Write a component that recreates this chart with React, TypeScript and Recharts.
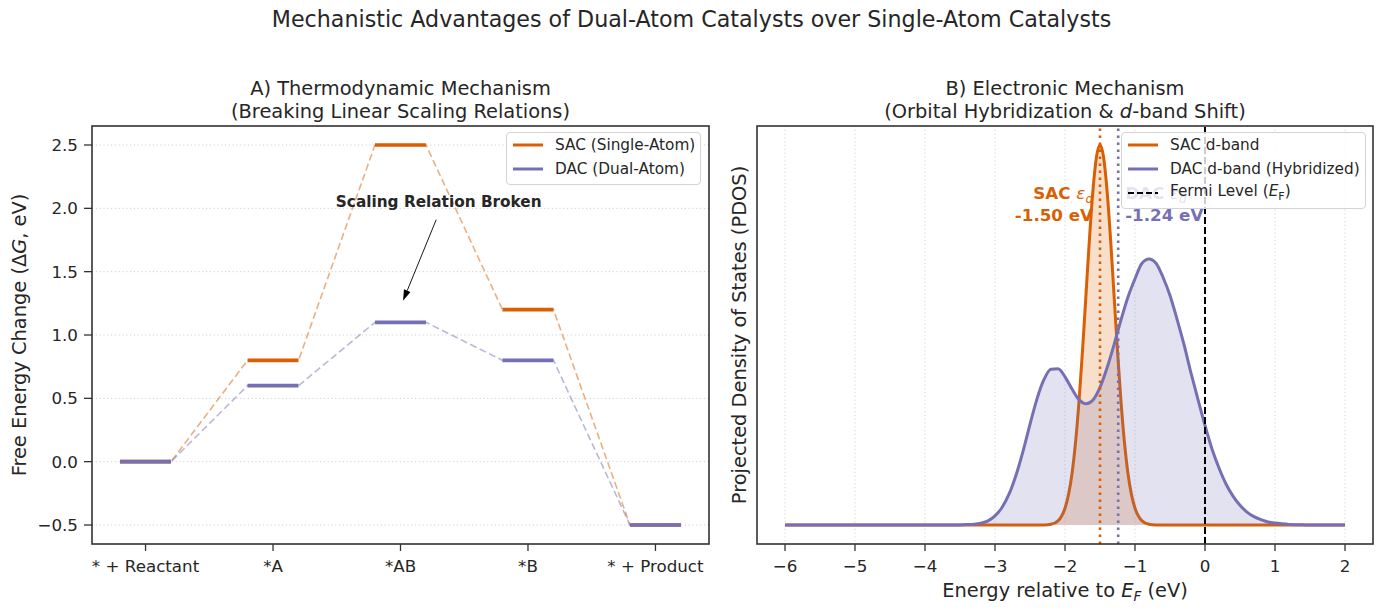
import React from 'react';
import { ComposedChart, Line, Area, XAxis, YAxis, CartesianGrid, ReferenceLine, ReferenceDot } from 'recharts';

// Panel A: free energy levels per reaction step
const STEPS = ['* + Reactant', '*A', '*AB', '*B', '* + Product'];
const SAC_G = [0, 0.8, 2.5, 1.2, -0.5];
const DAC_G = [0, 0.6, 1.1, 0.8, -0.5];
const G_TICKS = [-0.5, 0, 0.5, 1, 1.5, 2, 2.5];

// Panel B: projected DOS (normalised to SAC peak)
const SAC_E = [-6, -2.4, -2.3, -2.2, -2.1, -2.05, -2.0, -1.95, -1.9, -1.85, -1.8, -1.75, -1.7, -1.65, -1.6, -1.55, -1.5,
  -1.45, -1.4, -1.35, -1.3, -1.25, -1.2, -1.15, -1.1, -1.05, -1.0, -0.95, -0.9, -0.8, -0.7, -0.6, 2];
const SAC_PDOS = [0, 0, 0.0003, 0.002, 0.011, 0.023, 0.044, 0.08, 0.135, 0.216, 0.325, 0.458, 0.607, 0.755, 0.882, 0.969, 1.0,
  0.969, 0.882, 0.755, 0.607, 0.458, 0.325, 0.216, 0.135, 0.08, 0.044, 0.023, 0.011, 0.002, 0.0003, 0, 0];

const DAC_E = [-6, -3.6, -3.5, -3.4, -3.3, -3.2, -3.1, -3.0, -2.9, -2.8, -2.7, -2.6, -2.5, -2.4, -2.3, -2.2, -2.1, -2.0,
  -1.9, -1.8, -1.7, -1.6, -1.5, -1.4, -1.3, -1.2, -1.1, -1.0, -0.9, -0.8, -0.7, -0.6, -0.5, -0.4, -0.3, -0.2, -0.1,
  0, 0.1, 0.2, 0.3, 0.4, 0.5, 0.6, 0.7, 0.8, 0.9, 1.0, 1.1, 1.2, 1.3, 1.4, 1.5, 2];
const DAC_PDOS = [0, 0, 0.0003, 0.001, 0.002, 0.005, 0.011, 0.024, 0.046, 0.081, 0.131, 0.194, 0.265, 0.332, 0.383, 0.41, 0.411, 0.39,
  0.358, 0.33, 0.319, 0.329, 0.362, 0.413, 0.474, 0.54, 0.6, 0.648, 0.689, 0.7, 0.689, 0.652, 0.604, 0.542, 0.475, 0.4, 0.33,
  0.262, 0.2, 0.15, 0.108, 0.076, 0.052, 0.034, 0.022, 0.014, 0.008, 0.005, 0.003, 0.0015, 0.0008, 0.0004, 0, 0];

const E_TICKS = [-6, -5, -4, -3, -2, -1, 0, 1, 2];
const SAC_CENTER = -1.5;
const DAC_CENTER = -1.24;
const FERMI = 0;

const ORANGE = '#d95f02';
const PURPLE = '#7570b3';
const INK = '#262626';
const SPINE = '#333333';
const FONT = '"DejaVu Sans", sans-serif';
const HALF = 0.2;

const minus = (s: string) => s.replace('-', '\u2212');

// level rows: each step is a flat segment, null rows break the level lines
const levelRows: any[] = [];
STEPS.forEach((_, i) => {
  [i - HALF, i + HALF].forEach((x) =>
    levelRows.push({ x, sacLink: SAC_G[i], dacLink: DAC_G[i], sac: SAC_G[i], dac: DAC_G[i] })
  );
  if (i < STEPS.length - 1) levelRows.push({ x: i + 0.5, sacLink: null, dacLink: null, sac: null, dac: null });
});

const sacRows = SAC_E.map((e, i) => ({ e, v: SAC_PDOS[i] }));
const dacRows = DAC_E.map((e, i) => ({ e, v: DAC_PDOS[i] }));

const Arrow = (p: any) => {
  const { x1, y1, x2, y2 } = p;
  const a = Math.atan2(y2 - y1, x2 - x1);
  const L = 11, W = 3.5;
  const bx = x2 - Math.cos(a) * L, by = y2 - Math.sin(a) * L;
  const nx = -Math.sin(a) * W, ny = Math.cos(a) * W;
  return (
    <g>
      <line x1={x1} y1={y1} x2={bx} y2={by} stroke="#000" strokeWidth={0.9} />
      <polygon points={`${x2},${y2} ${bx + nx},${by + ny} ${bx - nx},${by - ny}`} fill="#000" />
    </g>
  );
};

const CenterLabel = (name: string, value: number, color: string, anchor: 'start' | 'end') => (p: any) => (
  <text x={p.cx} y={p.cy} textAnchor={anchor} fill={color} fontFamily={FONT} fontSize={16.7} fontWeight="bold">
    <tspan x={p.cx} dy={-11}>
      {name + ' '}
      <tspan fontWeight="normal" fontStyle="italic">ε</tspan>
      <tspan fontWeight="normal" fontStyle="italic" fontSize={12} dy={4}>d</tspan>
    </tspan>
    <tspan x={p.cx} dy={18}>{value.toFixed(2) + ' eV'}</tspan>
  </text>
);

const LegendBox = ({ left, top, width, items }: any) => (
  <div
    style={{
      position: 'absolute', left, top, width, boxSizing: 'border-box',
      border: '1px solid #d4d4d4', borderRadius: 4, background: 'rgba(255,255,255,0.8)',
      paddingLeft: 6, paddingBottom: 3, fontFamily: FONT, fontSize: 15.3, color: INK,
    }}
  >
    {items.map((it: any, k: number) => (
      <div key={k} style={{ display: 'flex', alignItems: 'center', height: 24 }}>
        <svg width={30} height={8} style={{ flex: 'none' }}>
          <line x1={0} y1={4} x2={30} y2={4} stroke={it.color} strokeWidth={it.dash ? 2 : 3} strokeDasharray={it.dash} />
        </svg>
        <span style={{ marginLeft: 12, whiteSpace: 'nowrap' }}>{it.label}</span>
      </div>
    ))}
  </div>
);

const tickStyle = { fill: INK, fontSize: 16.7, fontFamily: FONT };

export default function App() {
  return (
    <div style={{ position: 'relative', width: 1383, height: 614, background: '#fff', fontFamily: FONT }}>
      <style>{'body{margin:0}'}</style>

      <div style={{ position: 'absolute', left: 0, top: 0 }}>
        <ComposedChart width={720} height={614} data={levelRows} margin={{ top: 126, right: 11, bottom: 30, left: 32 }}>
          <CartesianGrid vertical={false} stroke="#cfcfcf" strokeDasharray="1.2 2.6" />
          <XAxis
            type="number" dataKey="x" domain={[-0.42, 4.42]} ticks={[0, 1, 2, 3, 4]} interval={0} allowDataOverflow
            tickFormatter={(v: number) => STEPS[v]} height={40} tickSize={7} tickMargin={9}
            axisLine={false} tickLine={{ stroke: SPINE, strokeWidth: 1.3 }} tick={tickStyle}
          />
          <YAxis
            type="number" domain={[-0.65, 2.65]} ticks={G_TICKS} interval={0} allowDataOverflow width={60}
            tickFormatter={(v: number) => minus(v.toFixed(1))} tickSize={8} tickMargin={6}
            axisLine={false} tickLine={{ stroke: SPINE, strokeWidth: 1.3 }} tick={tickStyle}
          />
          <Line dataKey="sacLink" type="linear" stroke={ORANGE} strokeOpacity={0.5} strokeWidth={1.6} strokeDasharray="7 3.5"
            dot={false} activeDot={false} connectNulls isAnimationActive={false} />
          <Line dataKey="dacLink" type="linear" stroke={PURPLE} strokeOpacity={0.5} strokeWidth={1.6} strokeDasharray="7 3.5"
            dot={false} activeDot={false} connectNulls isAnimationActive={false} />
          <Line dataKey="sac" type="linear" stroke={ORANGE} strokeWidth={3.6} dot={false} activeDot={false}
            connectNulls={false} isAnimationActive={false} />
          <Line dataKey="dac" type="linear" stroke={PURPLE} strokeWidth={3.6} dot={false} activeDot={false}
            connectNulls={false} isAnimationActive={false} />
          <ReferenceLine segment={[{ x: 2.28, y: 1.91 }, { x: 2.02, y: 1.27 }]} shape={Arrow} />
          <ReferenceDot x={2.3} y={2.05} r={0} shape={(p: any) => (
            <text x={p.cx} y={p.cy} textAnchor="middle" dominantBaseline="central" fill={INK}
              fontFamily={FONT} fontSize={15.3} fontWeight="bold">Scaling Relation Broken</text>
          )} />
        </ComposedChart>
      </div>

      <div style={{ position: 'absolute', left: 720, top: 0 }}>
        <ComposedChart width={663} height={614} margin={{ top: 126, right: 10, bottom: 30, left: 37 }}>
          <CartesianGrid horizontal={false} stroke="#d6d6d6" strokeDasharray="1.2 2.6" />
          <XAxis
            type="number" dataKey="e" domain={[-6.4, 2.4]} ticks={E_TICKS} interval={0} allowDataOverflow
            tickFormatter={(v: number) => minus(String(v))} height={40} tickSize={7} tickMargin={9}
            axisLine={false} tickLine={{ stroke: SPINE, strokeWidth: 1.3 }} tick={tickStyle}
          />
          <YAxis hide type="number" domain={[-0.05, 1.05]} allowDataOverflow />
          <Area data={sacRows} dataKey="v" type="monotone" baseValue={0} stroke={ORANGE} strokeWidth={3}
            fill={ORANGE} fillOpacity={0.2} dot={false} activeDot={false} isAnimationActive={false} />
          <Area data={dacRows} dataKey="v" type="monotone" baseValue={0} stroke={PURPLE} strokeWidth={3}
            fill={PURPLE} fillOpacity={0.2} dot={false} activeDot={false} isAnimationActive={false} />
          <ReferenceLine x={SAC_CENTER} stroke={ORANGE} strokeWidth={2.6} strokeDasharray="2.6 4.4" />
          <ReferenceLine x={DAC_CENTER} stroke={PURPLE} strokeWidth={2.6} strokeDasharray="2.6 4.4" />
          <ReferenceLine x={FERMI} stroke="#000" strokeWidth={2} strokeDasharray="7 3" />
          <ReferenceDot x={SAC_CENTER - 0.1} y={0.83} r={0} shape={CenterLabel('SAC', SAC_CENTER, ORANGE, 'end')} />
          <ReferenceDot x={DAC_CENTER + 0.1} y={0.83} r={0} shape={CenterLabel('DAC', DAC_CENTER, PURPLE, 'start')} />
        </ComposedChart>
      </div>

      <svg width={1383} height={614} style={{ position: 'absolute', left: 0, top: 0, pointerEvents: 'none' }}
        fontFamily={FONT} fill={INK}>
        <rect x={92} y={126} width={617} height={418} fill="none" stroke={SPINE} strokeWidth={1.6} />
        <rect x={757} y={126} width={616} height={418} fill="none" stroke={SPINE} strokeWidth={1.6} />
        <text x={691.5} y={26.5} textAnchor="middle" fontSize={22.2}>
          Mechanistic Advantages of Dual-Atom Catalysts over Single-Atom Catalysts
        </text>
        <text x={400.5} y={95} textAnchor="middle" fontSize={19.4}>A) Thermodynamic Mechanism</text>
        <text x={400.5} y={118} textAnchor="middle" fontSize={19.4}>(Breaking Linear Scaling Relations)</text>
        <text x={1065} y={95} textAnchor="middle" fontSize={19.4}>B) Electronic Mechanism</text>
        <text x={1065} y={118} textAnchor="middle" fontSize={19.4}>
          (Orbital Hybridization &amp; <tspan fontStyle="italic">d</tspan>-band Shift)
        </text>
        <text x={26} y={335} transform="rotate(-90 26 335)" textAnchor="middle" fontSize={19.4}>
          Free Energy Change (Δ<tspan fontStyle="italic">G</tspan>, eV)
        </text>
        <text x={746} y={335} transform="rotate(-90 746 335)" textAnchor="middle" fontSize={19.4}>
          Projected Density of States (PDOS)
        </text>
        <text x={1065} y={597} textAnchor="middle" fontSize={19.4}>
          Energy relative to <tspan fontStyle="italic">E</tspan>
          <tspan fontStyle="italic" fontSize={13.5} dy={4}>F</tspan>
          <tspan dy={-4}> (eV)</tspan>
        </text>
      </svg>

      <LegendBox left={506} top={132} width={195} items={[
        { label: 'SAC (Single-Atom)', color: ORANGE },
        { label: 'DAC (Dual-Atom)', color: PURPLE },
      ]} />
      <LegendBox left={1121} top={132} width={245} items={[
        { label: 'SAC d-band', color: ORANGE },
        { label: 'DAC d-band (Hybridized)', color: PURPLE },
        { label: <span>Fermi Level (<i>E</i><sub style={{ fontSize: 11 }}>F</sub>)</span>, color: '#000', dash: '6 3' },
      ]} />
    </div>
  );
}
